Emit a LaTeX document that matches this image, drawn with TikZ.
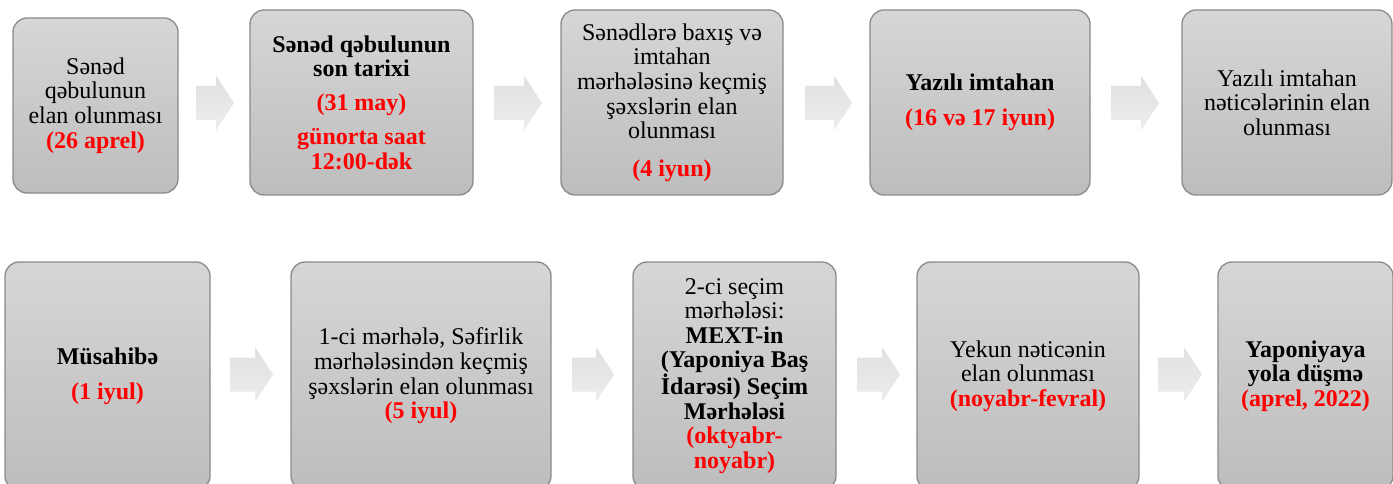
\documentclass[tikz,border=0pt]{standalone}
\usepackage{fontspec}
\setmainfont{Liberation Serif}
\definecolor{boxtop}{HTML}{D6D6D6}
\definecolor{boxbot}{HTML}{BDBDBD}
\definecolor{boxline}{HTML}{8A8A8A}
\definecolor{arrtop}{HTML}{E0E0E0}
\definecolor{arrbot}{HTML}{EDEDED}
\definecolor{datered}{HTML}{FF0000}
\newcommand{\hl}[1]{\textcolor{datered}{\textbf{#1}}}
\newcommand{\blkarrow}[3]{\shade[top color=arrtop, bottom color=arrbot]
  (#1,#3-17) -- (#2-18,#3-17) -- (#2-18,#3-27.5) -- (#2,#3) -- (#2-18,#3+27.5) -- (#2-18,#3+17) -- (#1,#3+17) -- cycle;}
\tikzset{
  box/.style={draw=boxline, line width=1.3pt, rounded corners=14pt,
    top color=boxtop, bottom color=boxbot, align=center, inner sep=0pt,
    font={\fontsize{24}{24.6}\selectfont}},
}
\begin{document}
\begin{tikzpicture}[x=1pt,y=-1pt]
\useasboundingbox (0,0) rectangle (1393,484);
\clip (0,0) rectangle (1393,484);
% top row
\node[box, minimum width=165pt, minimum height=175pt] (b1) at (95.5,105.5)
  {Sənəd\\qəbulunun\\elan olunması\\\hl{(26 aprel)}};
\node[box, minimum width=223pt, minimum height=185pt] (b2) at (361.5,102.5)
  {\textbf{Sənəd qəbulunun}\\\textbf{son tarixi}\\[9.5pt]\hl{(31 may)}\\[9pt]\hl{günorta saat}\\\hl{12:00-dək}};
\node[box, minimum width=222pt, minimum height=185pt] (b3) at (672,102.5)
  {Sənədlərə baxış və\\imtahan\\mərhələsinə keçmiş\\şəxslərin elan\\olunması\\[13pt]\hl{(4 iyun)}};
\node[box, minimum width=220pt, minimum height=185pt] (b4) at (980,102.5)
  {\textbf{Yazılı imtahan}\\[10pt]\hl{(16 və 17 iyun)}};
\node[box, minimum width=210pt, minimum height=185pt] (b5) at (1287,102.5)
  {Yazılı imtahan\\nəticələrinin elan\\olunması};
% bottom row
\node[box, minimum width=205pt, minimum height=228pt] (b6) at (107.5,376)
  {\textbf{Müsahibə}\\[10pt]\hl{(1 iyul)}};
\node[box, minimum width=260pt, minimum height=228pt] (b7) at (421,376)
  {1-ci mərhələ, Səfirlik\\mərhələsindən keçmiş\\şəxslərin elan olunması\\\hl{(5 iyul)}};
\node[box, minimum width=203pt, minimum height=228pt] (b8) at (734.5,376)
  {2-ci seçim\\mərhələsi:\\\textbf{MEXT-in}\\\textbf{(Yaponiya Baş}\\\textbf{İdarəsi) Seçim}\\\textbf{Mərhələsi}\\\hl{(oktyabr-}\\\hl{noyabr)}};
\node[box, minimum width=222pt, minimum height=228pt] (b9) at (1028,376)
  {Yekun nəticənin\\elan olunması\\\hl{(noyabr-fevral)}};
\node[box, minimum width=175pt, minimum height=228pt] (b10) at (1305.5,376)
  {\textbf{Yaponiyaya}\\\textbf{yola düşmə}\\\hl{(aprel, 2022)}};
% block arrows
\blkarrow{196}{234}{103}
\blkarrow{494}{542}{103}
\blkarrow{805}{852}{103}
\blkarrow{1111}{1159}{103}
\blkarrow{230}{273}{374.5}
\blkarrow{572}{614}{374.5}
\blkarrow{857}{900}{374.5}
\blkarrow{1158}{1202}{374.5}
\end{tikzpicture}
\end{document}
